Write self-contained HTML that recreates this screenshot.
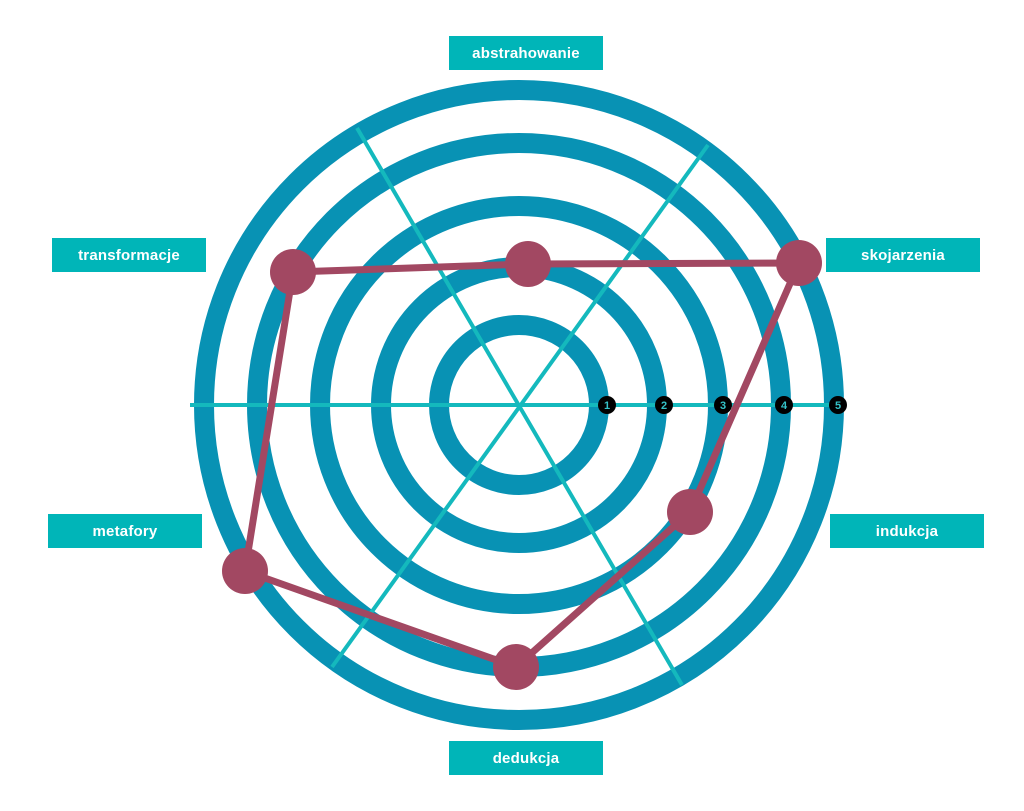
<!DOCTYPE html>
<html><head><meta charset="utf-8"><style>
html,body{margin:0;padding:0;background:#fff;}
.lb{position:absolute;background:#00b5b8;color:#fff;font:bold 15px "Liberation Sans",sans-serif;display:flex;align-items:center;justify-content:center;height:34px;width:154px;letter-spacing:0.2px;}
</style></head><body>
<div style="position:relative;width:1024px;height:811px;overflow:hidden">
<svg width="1024" height="811" style="position:absolute;left:0;top:0">
<g fill="none" stroke="#0892b4" stroke-width="20">
<circle cx="519" cy="405" r="80"/>
<circle cx="519" cy="405" r="138"/>
<circle cx="519" cy="405" r="199"/>
<circle cx="519" cy="405" r="262"/>
<circle cx="519" cy="405" r="315"/>
</g>
<g stroke="#14b9bd" stroke-width="4">
<line x1="190" y1="405" x2="838" y2="405"/>
<line x1="357" y1="128" x2="682" y2="685"/>
<line x1="708" y1="145" x2="332" y2="667"/>
</g>
<g fill="#000">
<circle cx="607" cy="405" r="9"/><circle cx="664" cy="405" r="9"/><circle cx="723" cy="405" r="9"/><circle cx="784" cy="405" r="9"/><circle cx="838" cy="405" r="9"/>
</g>
<g fill="#35c3c8" font-family="Liberation Sans,sans-serif" font-weight="bold" font-size="11" text-anchor="middle">
<text x="607" y="409">1</text><text x="664" y="409">2</text><text x="723" y="409">3</text><text x="784" y="409">4</text><text x="838" y="409">5</text>
</g>
<polygon points="293,272 528,264 799,263 690,512 516,667 245,571" fill="none" stroke="#a24862" stroke-width="7" stroke-linejoin="round"/>
<g fill="#a24862">
<circle cx="293" cy="272" r="23"/><circle cx="528" cy="264" r="23"/><circle cx="799" cy="263" r="23"/><circle cx="690" cy="512" r="23"/><circle cx="516" cy="667" r="23"/><circle cx="245" cy="571" r="23"/>
</g>
</svg>
<div class="lb" style="left:449px;top:36px">abstrahowanie</div>
<div class="lb" style="left:52px;top:238px">transformacje</div>
<div class="lb" style="left:826px;top:238px">skojarzenia</div>
<div class="lb" style="left:48px;top:514px">metafory</div>
<div class="lb" style="left:830px;top:514px">indukcja</div>
<div class="lb" style="left:449px;top:741px">dedukcja</div>
</div>
</body></html>
